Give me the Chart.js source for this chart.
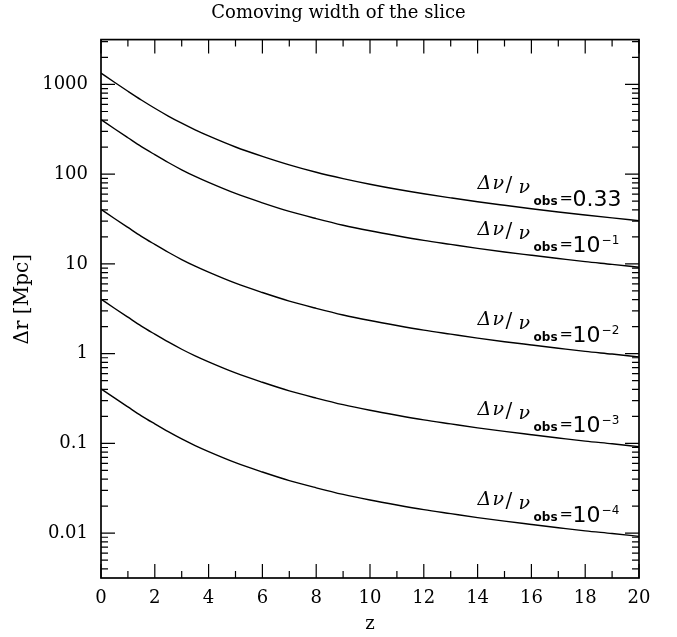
<!DOCTYPE html>
<html>
<head>
<meta charset="utf-8">
<script src="https://cdn.jsdelivr.net/npm/chart.js@4"></script>
<style>
  html, body { margin: 0; padding: 0; background: #fff; }
</style>
</head>
<body>
<canvas id="myChart" width="677" height="637"></canvas>
<script>
// redshift samples
const zValues = [0, 0.5, 1, 1.5, 2, 2.5, 3, 3.5, 4, 5, 6, 7, 8, 9, 10, 11, 12, 13, 14, 15, 16, 17, 18, 19, 20];

// comoving width (Mpc), one array per Δν/ν_obs
const width033 = [1340, 1058, 840, 671, 543, 445, 370, 312, 267, 201, 158, 127, 105, 89.3, 77.3, 67.9, 60.5, 54.5, 49.3, 45.0, 41.2, 37.9, 35.1, 32.6, 30.4];
const width1e1 = [406, 321, 255, 203, 165, 135, 112, 94.5, 81, 61, 48, 38.5, 32, 27, 23.4, 20.6, 18.3, 16.5, 14.9, 13.6, 12.5, 11.5, 10.6, 9.9, 9.2];
const width1e2 = [40.6, 32.1, 25.5, 20.3, 16.5, 13.5, 11.2, 9.45, 8.1, 6.1, 4.8, 3.85, 3.2, 2.7, 2.34, 2.06, 1.83, 1.65, 1.49, 1.36, 1.25, 1.15, 1.06, 0.99, 0.92];
const width1e3 = [4.06, 3.21, 2.55, 2.03, 1.65, 1.35, 1.12, 0.945, 0.81, 0.61, 0.48, 0.385, 0.32, 0.27, 0.234, 0.206, 0.183, 0.165, 0.149, 0.136, 0.125, 0.115, 0.106, 0.099, 0.092];
const width1e4 = [0.406, 0.321, 0.255, 0.203, 0.165, 0.135, 0.112, 0.0945, 0.081, 0.061, 0.048, 0.0385, 0.032, 0.027, 0.0234, 0.0206, 0.0183, 0.0165, 0.0149, 0.0136, 0.0125, 0.0115, 0.0106, 0.0099, 0.0092];

const seriesList = [width033, width1e1, width1e2, width1e3, width1e4];
const labelValues = ['0.33', '10', '10', '10', '10'];
const labelExps = ['', '\u22121', '\u22122', '\u22123', '\u22124'];

const yTickValues = [0.01, 0.1, 1, 10, 100, 1000];
const yTickLabels = ['0.01', '0.1', '1', '10', '100', '1000'];

const serif = 'DejaVu Serif';

// PGPLOT style frame: inward ticks on all four sides
const axisFrame = {
  id: 'axisFrame',
  afterDatasetsDraw(chart) {
    const { ctx, chartArea: a, scales: { x, y } } = chart;
    ctx.save();
    ctx.strokeStyle = '#000';
    ctx.lineWidth = 1.2;
    ctx.beginPath();
    for (let v = x.min; v <= x.max; v += 1) {
      const px = x.getPixelForValue(v);
      const len = v % 2 === 0 ? 14 : 7;
      ctx.moveTo(px, a.bottom); ctx.lineTo(px, a.bottom - len);
      ctx.moveTo(px, a.top); ctx.lineTo(px, a.top + len);
    }
    for (let d = -3; d <= 3; d++) {
      for (let m = 1; m <= 9; m++) {
        const v = m * Math.pow(10, d);
        if (v < y.min || v > y.max) continue;
        const py = y.getPixelForValue(v);
        const len = m === 1 ? 14 : 7;
        ctx.moveTo(a.left, py); ctx.lineTo(a.left + len, py);
        ctx.moveTo(a.right, py); ctx.lineTo(a.right - len, py);
      }
    }
    ctx.stroke();
    ctx.lineWidth = 1.7;
    ctx.strokeRect(a.left, a.top, a.right - a.left, a.bottom - a.top);
    ctx.restore();
  }
};

// curve labels  Δν/ν_obs = ...
const curveLabels = {
  id: 'curveLabels',
  afterDatasetsDraw(chart) {
    const { ctx, scales: { x, y } } = chart;
    const i14 = zValues.indexOf(14);
    ctx.save();
    ctx.fillStyle = '#000';
    ctx.textBaseline = 'alphabetic';
    ctx.textAlign = 'left';
    seriesList.forEach((s, k) => {
      const x0 = x.getPixelForValue(14);
      const yc = y.getPixelForValue(s[i14]);
      ctx.font = 'italic 19px "DejaVu Serif"';
      ctx.fillText('\u0394', x0, yc - 13);
      ctx.fillText('\u03bd', x0 + 15, yc - 13);
      ctx.font = '20px "DejaVu Serif"';
      ctx.fillText('/', x0 + 28, yc - 11);
      ctx.font = 'italic 19px "DejaVu Serif"';
      ctx.fillText('\u03bd', x0 + 41, yc - 9);
      ctx.font = 'bold 12px "DejaVu Sans"';
      ctx.fillText('obs', x0 + 56, yc + 3);
      ctx.font = '16px "DejaVu Sans"';
      ctx.fillText('=', x0 + 82, yc + 1);
      ctx.font = '22px "DejaVu Sans"';
      ctx.fillText(labelValues[k], x0 + 95, yc + 4);
      if (labelExps[k]) {
        const w = ctx.measureText(labelValues[k]).width;
        ctx.font = '12px "DejaVu Sans"';
        ctx.fillText(labelExps[k], x0 + 96 + w, yc - 4);
      }
    });
    ctx.restore();
  }
};

const data = {
  datasets: seriesList.map(s => ({
    data: zValues.map((z, i) => ({ x: z, y: s[i] })),
    borderColor: '#000',
    borderWidth: 1.4,
    pointRadius: 0,
    fill: false,
    cubicInterpolationMode: 'monotone'
  }))
};

const config = {
  type: 'line',
  data: data,
  options: {
    responsive: false,
    animation: false,
    layout: { padding: 0 },
    plugins: {
      legend: { display: false },
      tooltip: { enabled: false },
      title: {
        display: true,
        text: 'Comoving width of the slice',
        color: '#000',
        font: { family: serif, size: 18, weight: 'normal' },
        padding: { top: 3, bottom: 15 }
      }
    },
    scales: {
      x: {
        type: 'linear',
        min: 0,
        max: 20,
        grid: { display: false, drawTicks: false },
        border: { display: false },
        ticks: { stepSize: 2, color: '#000', padding: 10, maxRotation: 0, font: { family: serif, size: 18 } },
        title: { display: true, text: 'z', color: '#000', font: { family: serif, size: 18 }, padding: { top: 4, bottom: 2 } },
        afterFit: s => { s.height = 59; }
      },
      y: {
        type: 'logarithmic',
        min: Math.pow(10, -2.5),
        max: Math.pow(10, 3.5),
        grid: { display: false, drawTicks: false },
        border: { display: false },
        afterBuildTicks: s => { s.ticks = yTickValues.map(v => ({ value: v })); },
        ticks: {
          color: '#000',
          padding: 13,
          font: { family: serif, size: 18 },
          callback: (v) => yTickLabels[yTickValues.indexOf(v)] ?? ''
        },
        title: { display: true, text: '   \u0394r [Mpc]', color: '#000', font: { family: serif, size: 20 }, padding: { top: 11, bottom: 4 } },
        afterFit: s => { s.width = 101; }
      },
      // empty right-hand box so the plot ends at the same place as the reference
      yRight: {
        position: 'right',
        display: true,
        grid: { display: false, drawTicks: false },
        border: { display: false },
        ticks: { display: false },
        afterFit: s => { s.width = 38; }
      }
    }
  },
  plugins: [axisFrame, curveLabels]
};

const widthChart = new Chart(document.getElementById('myChart'), config);
</script>
</body>
</html>
